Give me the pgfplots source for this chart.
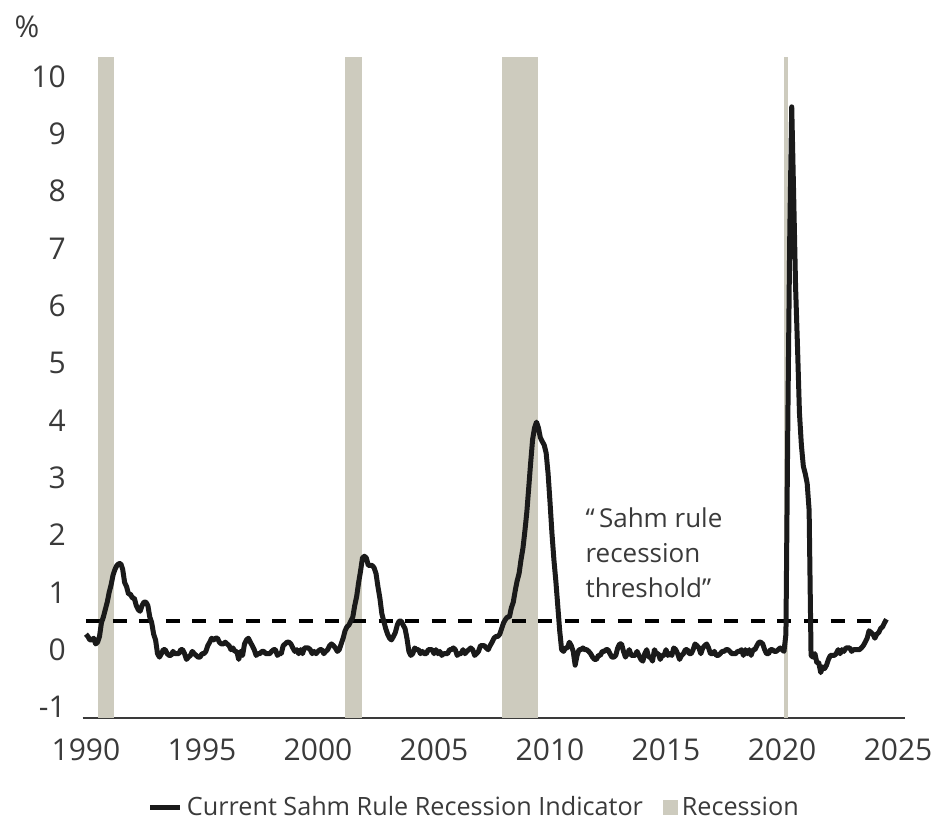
\documentclass[border=0pt]{standalone}
\usepackage{pgfplots}
\pgfplotsset{compat=1.18}
\usepackage{fontspec}
\setmainfont{Open Sans}
\definecolor{recess}{HTML}{CDCBBE}
\definecolor{linec}{HTML}{1A1A1A}
\definecolor{txt}{HTML}{3A3A3A}
\begin{document}
\begin{tikzpicture}
\begin{axis}[
  scale only axis, width=411.2pt, height=330.5pt,
  xmin=1989.86, xmax=2025.30, ymin=-1.19, ymax=10.34,
  clip=false,
  axis x line*=bottom, axis y line*=left,
  x axis line style={draw=txt, line width=1pt, -},
  y axis line style={draw=none},
  major tick length=0pt,
  xtick={1990,1995,2000,2005,2010,2015,2020,2025},
  xticklabels={1990,1995,2000,2005,2010,2015,2020,2025},
  ytick={-1,0,1,2,3,4,5,6,7,8,9,10},
  yticklabels={-1,0,1,2,3,4,5,6,7,8,9,10},
  xticklabel style={font=\fontsize{15}{18}\selectfont, text=txt, yshift=-7pt},
  yticklabel style={font=\fontsize{15}{18}\selectfont, text=txt, xshift=-5pt},
  legend style={at={(0.4775,-0.136)}, anchor=center, draw=none, fill=none,
    font=\fontsize{12.6}{15}\selectfont, text=txt, legend columns=2,
    /tikz/every even column/.append style={column sep=8pt}},
]
\addlegendimage{legend image code/.code={\draw[linec,line width=2.5pt] (0pt,0pt) -- (15pt,0pt);}}
\addlegendentry{Current Sahm Rule Recession Indicator}
\addlegendimage{legend image code/.code={\fill[recess] (0pt,-3.5pt) rectangle (7pt,3.5pt);}}
\addlegendentry{Recession}

% recessions
\addplot[fill=recess, draw=none, forget plot] coordinates {(1990.50,-1.19) (1990.50,10.34) (1991.20,10.34) (1991.20,-1.19)} --cycle;
\addplot[fill=recess, draw=none, forget plot] coordinates {(2001.17,-1.19) (2001.17,10.34) (2001.88,10.34) (2001.88,-1.19)} --cycle;
\addplot[fill=recess, draw=none, forget plot] coordinates {(2007.92,-1.19) (2007.92,10.34) (2009.46,10.34) (2009.46,-1.19)} --cycle;
\addplot[fill=recess, draw=none, forget plot] coordinates {(2020.09,-1.19) (2020.09,10.34) (2020.24,10.34) (2020.24,-1.19)} --cycle;

% threshold
\addplot[forget plot, black, line width=2pt, dash pattern=on 7pt off 6.3pt] coordinates {(1990.0,0.5) (2024.5,0.5)};

% Sahm rule indicator
\addplot[forget plot, linec, line width=2.5pt, line join=round] coordinates {
(1990.000,0.27)(1990.083,0.23)(1990.167,0.17)(1990.250,0.17)(1990.333,0.20)(1990.417,0.10)(1990.500,0.13)(1990.583,0.23)(1990.667,0.47)(1990.750,0.57)(1990.833,0.70)(1990.917,0.83)
(1991.000,1.00)(1991.083,1.13)(1991.167,1.30)(1991.250,1.40)(1991.333,1.47)(1991.417,1.50)(1991.500,1.50)(1991.583,1.40)(1991.667,1.17)(1991.750,1.10)(1991.833,0.97)(1991.917,0.97)
(1992.000,0.90)(1992.083,0.90)(1992.167,0.77)(1992.250,0.70)(1992.333,0.67)(1992.417,0.77)(1992.500,0.83)(1992.583,0.83)(1992.667,0.77)(1992.750,0.57)(1992.833,0.47)(1992.917,0.27)
(1993.000,0.17)(1993.083,-0.07)(1993.167,-0.13)(1993.250,-0.07)(1993.333,0.00)(1993.417,0.00)(1993.500,-0.07)(1993.583,-0.10)(1993.667,-0.10)(1993.750,-0.03)(1993.833,-0.07)(1993.917,-0.07)
(1994.000,-0.07)(1994.083,0.00)(1994.167,0.00)(1994.250,-0.07)(1994.333,-0.17)(1994.417,-0.13)(1994.500,-0.10)(1994.583,-0.03)(1994.667,-0.07)(1994.750,-0.10)(1994.833,-0.13)(1994.917,-0.13)
(1995.000,-0.07)(1995.083,-0.07)(1995.167,-0.03)(1995.250,0.07)(1995.333,0.13)(1995.417,0.20)(1995.500,0.17)(1995.583,0.20)(1995.667,0.20)(1995.750,0.13)(1995.833,0.10)(1995.917,0.10)
(1996.000,0.13)(1996.083,0.10)(1996.167,0.07)(1996.250,0.00)(1996.333,0.03)(1996.417,-0.03)(1996.500,-0.03)(1996.583,-0.17)(1996.667,-0.03)(1996.750,-0.10)(1996.833,0.10)(1996.917,0.17)
(1997.000,0.20)(1997.083,0.13)(1997.167,0.07)(1997.250,0.00)(1997.333,-0.10)(1997.417,-0.07)(1997.500,-0.07)(1997.583,-0.03)(1997.667,-0.03)(1997.750,-0.07)(1997.833,-0.07)(1997.917,-0.07)
(1998.000,-0.03)(1998.083,0.00)(1998.167,0.00)(1998.250,-0.10)(1998.333,-0.07)(1998.417,-0.07)(1998.500,0.07)(1998.583,0.10)(1998.667,0.13)(1998.750,0.13)(1998.833,0.10)(1998.917,0.03)
(1999.000,-0.03)(1999.083,0.00)(1999.167,-0.07)(1999.250,0.00)(1999.333,-0.07)(1999.417,0.03)(1999.500,0.03)(1999.583,0.03)(1999.667,0.00)(1999.750,-0.07)(1999.833,-0.03)(1999.917,-0.07)
(2000.000,-0.03)(2000.083,0.00)(2000.167,0.00)(2000.250,-0.07)(2000.333,-0.03)(2000.417,0.00)(2000.500,0.07)(2000.583,0.10)(2000.667,0.07)(2000.750,0.03)(2000.833,-0.03)(2000.917,0.00)
(2001.000,0.10)(2001.083,0.20)(2001.167,0.33)(2001.250,0.40)(2001.333,0.43)(2001.417,0.50)(2001.500,0.57)(2001.583,0.77)(2001.667,0.93)(2001.750,1.17)(2001.833,1.37)(2001.917,1.60)
(2002.000,1.63)(2002.083,1.60)(2002.167,1.47)(2002.250,1.47)(2002.333,1.47)(2002.417,1.43)(2002.500,1.33)(2002.583,1.10)(2002.667,0.90)(2002.750,0.63)(2002.833,0.50)(2002.917,0.37)
(2003.000,0.27)(2003.083,0.20)(2003.167,0.17)(2003.250,0.23)(2003.333,0.30)(2003.417,0.43)(2003.500,0.50)(2003.583,0.50)(2003.667,0.43)(2003.750,0.37)(2003.833,0.20)(2003.917,-0.03)
(2004.000,-0.10)(2004.083,-0.07)(2004.167,0.03)(2004.250,0.00)(2004.333,0.00)(2004.417,-0.07)(2004.500,-0.03)(2004.583,-0.07)(2004.667,-0.07)(2004.750,0.00)(2004.833,0.00)(2004.917,0.00)
(2005.000,-0.07)(2005.083,0.00)(2005.167,-0.07)(2005.250,-0.03)(2005.333,-0.10)(2005.417,-0.07)(2005.500,-0.07)(2005.583,-0.07)(2005.667,0.00)(2005.750,0.00)(2005.833,0.03)(2005.917,0.00)
(2006.000,-0.10)(2006.083,-0.07)(2006.167,-0.07)(2006.250,0.00)(2006.333,-0.07)(2006.417,-0.03)(2006.500,0.00)(2006.583,0.03)(2006.667,0.00)(2006.750,-0.10)(2006.833,-0.07)(2006.917,-0.03)
(2007.000,0.07)(2007.083,0.07)(2007.167,0.07)(2007.250,0.03)(2007.333,0.00)(2007.417,0.07)(2007.500,0.13)(2007.583,0.20)(2007.667,0.23)(2007.750,0.23)(2007.833,0.27)(2007.917,0.37)
(2008.000,0.47)(2008.083,0.53)(2008.167,0.57)(2008.250,0.57)(2008.333,0.73)(2008.417,0.83)(2008.500,1.03)(2008.583,1.20)(2008.667,1.33)(2008.750,1.57)(2008.833,1.77)(2008.917,2.07)
(2009.000,2.40)(2009.083,2.83)(2009.167,3.27)(2009.250,3.67)(2009.333,3.87)(2009.417,3.97)(2009.500,3.87)(2009.583,3.70)(2009.667,3.63)(2009.750,3.57)(2009.833,3.43)(2009.917,3.07)
(2010.000,2.57)(2010.083,2.03)(2010.167,1.57)(2010.250,1.20)(2010.333,0.77)(2010.417,0.33)(2010.500,0.00)(2010.583,-0.03)(2010.667,0.03)(2010.750,0.03)(2010.833,0.13)(2010.917,0.07)
(2011.000,-0.03)(2011.083,-0.27)(2011.167,-0.10)(2011.250,0.00)(2011.333,0.00)(2011.417,0.03)(2011.500,0.00)(2011.583,0.00)(2011.667,-0.03)(2011.750,-0.07)(2011.833,-0.13)(2011.917,-0.17)
(2012.000,-0.17)(2012.083,-0.10)(2012.167,-0.10)(2012.250,-0.03)(2012.333,-0.03)(2012.417,0.00)(2012.500,0.00)(2012.583,-0.07)(2012.667,-0.13)(2012.750,-0.13)(2012.833,-0.10)(2012.917,0.03)
(2013.000,0.10)(2013.083,0.10)(2013.167,-0.03)(2013.250,-0.13)(2013.333,-0.07)(2013.417,0.00)(2013.500,-0.10)(2013.583,-0.10)(2013.667,-0.10)(2013.750,-0.03)(2013.833,-0.10)(2013.917,-0.17)
(2014.000,-0.20)(2014.083,-0.07)(2014.167,0.00)(2014.250,-0.13)(2014.333,-0.13)(2014.417,-0.20)(2014.500,0.00)(2014.583,-0.07)(2014.667,-0.07)(2014.750,-0.17)(2014.833,-0.10)(2014.917,-0.10)
(2015.000,0.00)(2015.083,-0.10)(2015.167,-0.07)(2015.250,-0.10)(2015.333,0.03)(2015.417,0.00)(2015.500,-0.07)(2015.583,-0.17)(2015.667,-0.10)(2015.750,-0.07)(2015.833,0.00)(2015.917,0.00)
(2016.000,-0.07)(2016.083,-0.07)(2016.167,0.00)(2016.250,0.10)(2016.333,0.07)(2016.417,0.03)(2016.500,-0.07)(2016.583,0.03)(2016.667,0.07)(2016.750,0.10)(2016.833,0.03)(2016.917,-0.07)
(2017.000,-0.07)(2017.083,-0.03)(2017.167,-0.10)(2017.250,-0.10)(2017.333,-0.07)(2017.417,-0.03)(2017.500,-0.03)(2017.583,0.00)(2017.667,0.00)(2017.750,-0.03)(2017.833,-0.07)(2017.917,-0.07)
(2018.000,-0.07)(2018.083,-0.03)(2018.167,-0.03)(2018.250,0.00)(2018.333,-0.10)(2018.417,0.00)(2018.500,-0.07)(2018.583,0.00)(2018.667,-0.10)(2018.750,0.00)(2018.833,0.00)(2018.917,0.07)
(2019.000,0.13)(2019.083,0.13)(2019.167,0.10)(2019.250,0.00)(2019.333,-0.07)(2019.417,-0.07)(2019.500,0.00)(2019.583,0.00)(2019.667,-0.03)(2019.750,-0.03)(2019.833,0.00)(2019.917,0.03)
(2020.000,0.00)(2020.083,-0.03)(2020.167,0.27)(2020.250,4.03)(2020.333,7.27)(2020.417,9.47)(2020.500,7.93)(2020.583,6.33)(2020.667,5.27)(2020.750,4.13)(2020.833,3.57)(2020.917,3.20)
(2021.000,3.07)(2021.083,2.90)(2021.167,2.43)(2021.250,-0.10)(2021.333,-0.13)(2021.417,-0.07)(2021.500,-0.23)(2021.583,-0.23)(2021.667,-0.40)(2021.750,-0.30)(2021.833,-0.33)(2021.917,-0.27)
(2022.000,-0.17)(2022.083,-0.10)(2022.167,-0.10)(2022.250,-0.10)(2022.333,-0.07)(2022.417,0.00)(2022.500,-0.07)(2022.583,0.00)(2022.667,-0.03)(2022.750,0.03)(2022.833,0.03)(2022.917,0.03)
(2023.000,-0.03)(2023.083,0.00)(2023.167,0.00)(2023.250,0.00)(2023.333,0.00)(2023.417,0.03)(2023.500,0.07)(2023.583,0.13)(2023.667,0.20)(2023.750,0.33)(2023.833,0.30)(2023.917,0.27)
(2024.000,0.20)(2024.083,0.27)(2024.167,0.30)(2024.250,0.37)(2024.333,0.40)(2024.417,0.47)(2024.500,0.53)
};

\node[anchor=west, align=left, font=\fontsize{13}{17.5}\selectfont, text=txt] at (rel axis cs:0.603,0.2496) {“\,Sahm rule\\recession\\threshold”};
\node[font=\fontsize{15}{18}\selectfont, text=txt] at (rel axis cs:-0.0677,1.0454) {\%};

\coordinate (bl) at (rel axis cs:-0.1006,-0.1558);
\coordinate (tr) at (rel axis cs:1.0328,1.0862);
\end{axis}
\pgfresetboundingbox
\path[use as bounding box] (bl) rectangle (tr);
\end{tikzpicture}
\end{document}
